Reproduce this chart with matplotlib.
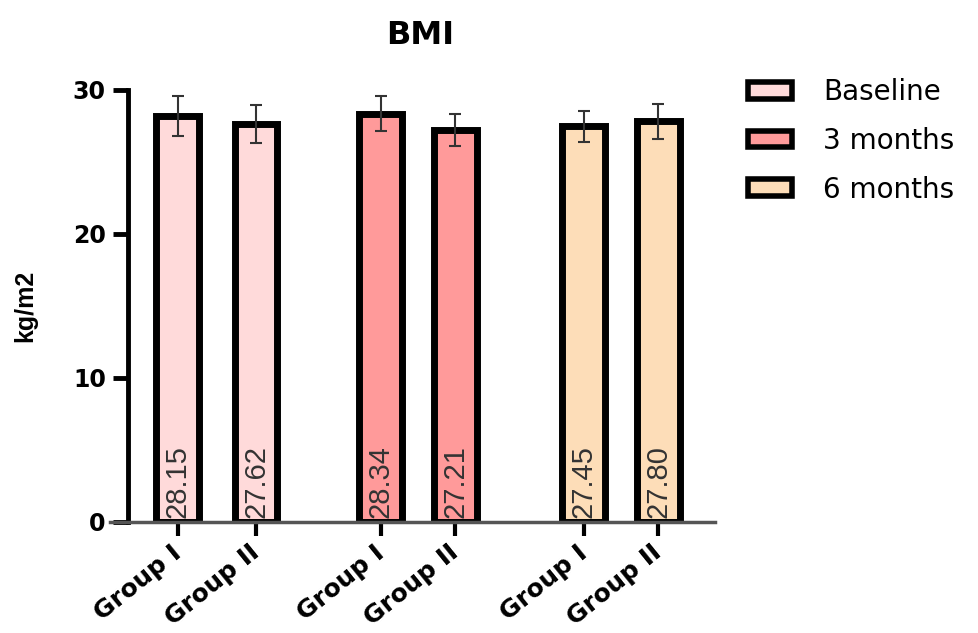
import numpy as np
import matplotlib.pyplot as plt

# data
timepoints = ["Baseline", "3 months", "6 months"]
groups = ["Group I", "Group II"]
means = [[28.15, 27.62], [28.34, 27.21], [27.45, 27.80]]
sds = [[1.4, 1.3], [1.2, 1.1], [1.1, 1.2]]
colors = ["#FFDADA", "#FF9A9A", "#FDDDB8"]

fig = plt.figure(figsize=(9.79, 6.33), dpi=100)
ax = fig.add_axes([0.1124, 0.1754, 0.618, 0.683])

pos = [[0, 1.0], [2.6, 3.55], [5.2, 6.15]]
width = 0.55
for i, tp in enumerate(timepoints):
    ax.bar(pos[i], means[i], width=width, color=colors[i], edgecolor="black",
           linewidth=5, label=tp, zorder=2)
    ax.errorbar(pos[i], means[i], yerr=sds[i], fmt="none", ecolor="#333333",
                elinewidth=1.5, capsize=4.5, capthick=1.5, zorder=3)
    for x, m in zip(pos[i], means[i]):
        ax.text(x, 0.3, f"{m:.2f}", rotation=90, ha="center", va="bottom",
                fontsize=21, color="#333333", family="Liberation Sans", zorder=4)

ax.set_xlim(-0.87, 6.88)
ax.set_ylim(0, 30)
ax.spines["left"].set_position(("data", -0.64))
ax.spines["left"].set_linewidth(3.5)
ax.spines["bottom"].set_linewidth(2.5)
ax.spines["bottom"].set_color("#555555")
for s in ["top", "right"]:
    ax.spines[s].set_visible(False)

ax.set_yticks([0, 10, 20, 30])
ax.tick_params(axis="y", length=11, width=3.5, labelsize=17, pad=5)
for lab in ax.get_yticklabels():
    lab.set_fontweight("bold")
ax.set_xticks([p for pp in pos for p in pp])
ax.set_xticklabels(groups * 3, rotation=39, ha="right", va="center",
                   rotation_mode="anchor", fontsize=18, fontweight="bold")
ax.tick_params(axis="x", length=10, width=3, pad=10)

ax.set_ylabel("kg/m2", fontsize=18, fontweight="bold", family="Liberation Sans")
ax.yaxis.set_label_coords(-0.121, 0.5)
fig.text(420 / 979, 1 - 35 / 633, "BMI", fontsize=23, fontweight="bold",
         ha="center", va="center")

leg = ax.legend(loc="upper left", bbox_to_anchor=(748 / 979, 1 - 78 / 633),
                bbox_transform=fig.transFigure, borderpad=0, borderaxespad=0,
                frameon=False, fontsize=20, handlelength=1.6, handleheight=0.55,
                labelspacing=0.75, handletextpad=1.1)
for h in leg.legend_handles:
    h.set_linewidth(4)

fig.savefig("out.png", dpi=100)
